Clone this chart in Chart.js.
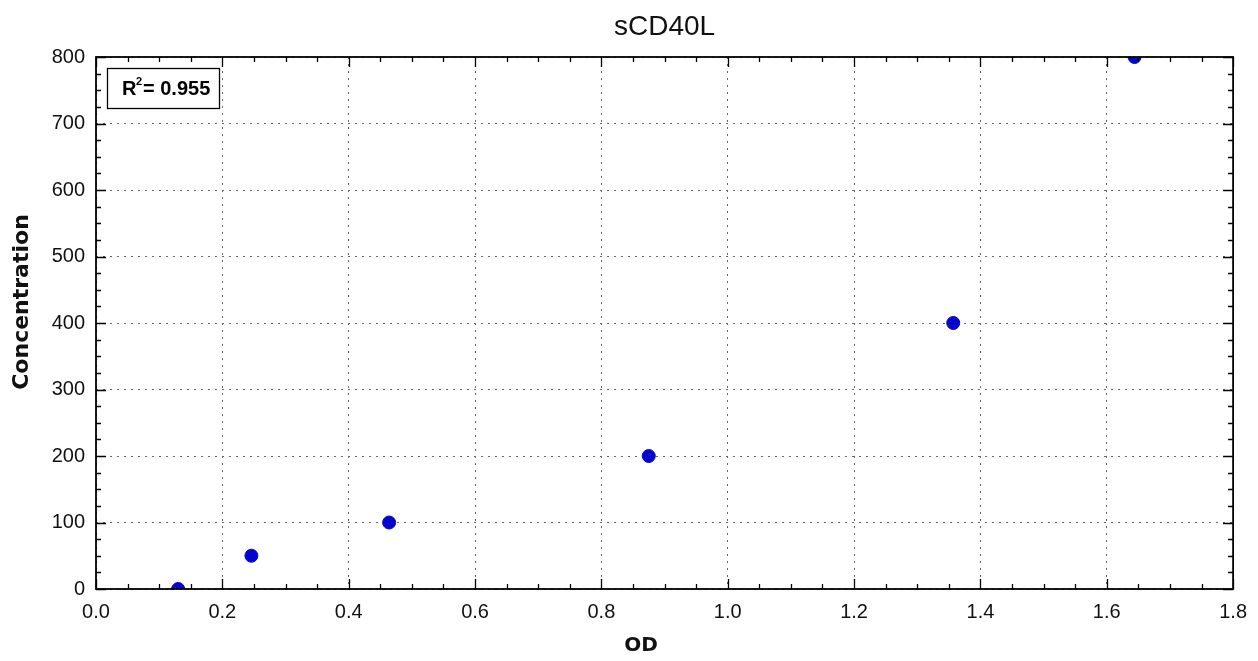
<!DOCTYPE html>
<html><head><meta charset="utf-8">
<script src="https://cdn.jsdelivr.net/npm/chart.js@4"></script>
<style>html,body{margin:0;padding:0;background:#fff}#wrap{width:1258px;height:661px}</style>
</head><body><div id="wrap"><canvas id="c" width="1258" height="661"></canvas></div>
<script>
const odValues = [0.13, 0.246, 0.464, 0.875, 1.357, 1.644];
const concentrations = [0, 50, 100, 200, 400, 800];
const chartTitle = 'sCD40L';
const xTitle = 'OD';
const yTitle = 'Concentration';
const r2Label = '0.955';

const FONT = '"Liberation Sans", Arial, sans-serif';
const BOLDFONT = '"DejaVu Sans", Verdana, sans-serif';

const frame = {
  id: 'frame',
  afterDraw(chart) {
    const {ctx, chartArea: a, scales: {x, y}} = chart;
    ctx.save();
    ctx.strokeStyle = '#000';
    ctx.lineWidth = 1.3;
    ctx.beginPath();
    for (let i = 0; i <= 36; i++) {
      const v = i * 0.05;
      const px = Math.round(x.getPixelForValue(v)) + 0.5;
      const len = (i % 4 === 0) ? 10 : 5;
      ctx.moveTo(px, a.bottom); ctx.lineTo(px, a.bottom - len);
      ctx.moveTo(px, a.top); ctx.lineTo(px, a.top + len);
    }
    for (let i = 0; i <= 32; i++) {
      const v = i * 25;
      const py = Math.round(y.getPixelForValue(v)) + 0.5;
      const len = (i % 4 === 0) ? 10 : 5;
      ctx.moveTo(a.left, py); ctx.lineTo(a.left + len, py);
      ctx.moveTo(a.right, py); ctx.lineTo(a.right - len, py);
    }
    ctx.stroke();
    ctx.lineWidth = 1.8;
    ctx.strokeRect(a.left, a.top, a.right - a.left, a.bottom - a.top);

    // R² box
    ctx.lineWidth = 1.3;
    ctx.strokeRect(107.5, 68.5, 112, 40);
    ctx.fillStyle = '#000';
    ctx.textBaseline = 'alphabetic';
    ctx.textAlign = 'left';
    ctx.font = 'bold 20px ' + FONT;
    ctx.fillText('R', 122, 95);
    ctx.font = 'bold 11px ' + FONT;
    ctx.fillText('2', 136, 85);
    ctx.font = 'bold 20px ' + FONT;
    ctx.fillText('= ' + r2Label, 143, 95);

    // chart title
    ctx.fillStyle = '#111';
    ctx.textAlign = 'center';
    ctx.textBaseline = 'middle';
    ctx.font = '28px ' + FONT;
    ctx.fillText(chartTitle, (a.left + a.right) / 2, 27);

    // x axis title
    ctx.font = 'bold 20px ' + BOLDFONT;
    ctx.fillText(xTitle, 641, 646);

    // y axis title
    ctx.save();
    ctx.translate(22, 302);
    ctx.rotate(-Math.PI / 2);
    ctx.font = 'bold 22px ' + BOLDFONT;
    ctx.fillText(yTitle, 0, 0);
    ctx.restore();
    ctx.restore();
  }
};

new Chart(document.getElementById('c'), {
  type: 'scatter',
  data: {
    datasets: [{
      data: odValues.map((v, i) => ({x: v, y: concentrations[i]})),
      backgroundColor: '#0505cc',
      borderColor: '#0505cc',
      pointRadius: 6.5,
      pointHoverRadius: 6.5,
      clip: 0
    }]
  },
  options: {
    responsive: false,
    animation: false,
    layout: {padding: {left: 0, right: 23, top: 57, bottom: 0}},
    plugins: {
      legend: {display: false},
      tooltip: {enabled: false},
      title: {display: false}
    },
    scales: {
      x: {
        type: 'linear', min: 0, max: 1.8,
        border: {display: false, dash: [2, 5]},
        grid: {color: '#666', lineWidth: 1, drawTicks: false},
        ticks: {stepSize: 0.2, padding: 11, color: '#111', font: {family: FONT, size: 20},
          callback: v => Number(v).toFixed(1)},
        afterFit(s) { s.height = 72; }
      },
      y: {
        type: 'linear', min: 0, max: 800,
        border: {display: false, dash: [2, 5]},
        grid: {color: '#666', lineWidth: 1, drawTicks: false},
        ticks: {stepSize: 100, padding: 11, color: '#111', font: {family: FONT, size: 20}},
        afterFit(s) { s.width = 96; }
      }
    }
  },
  plugins: [frame]
});
</script>
</body></html>
